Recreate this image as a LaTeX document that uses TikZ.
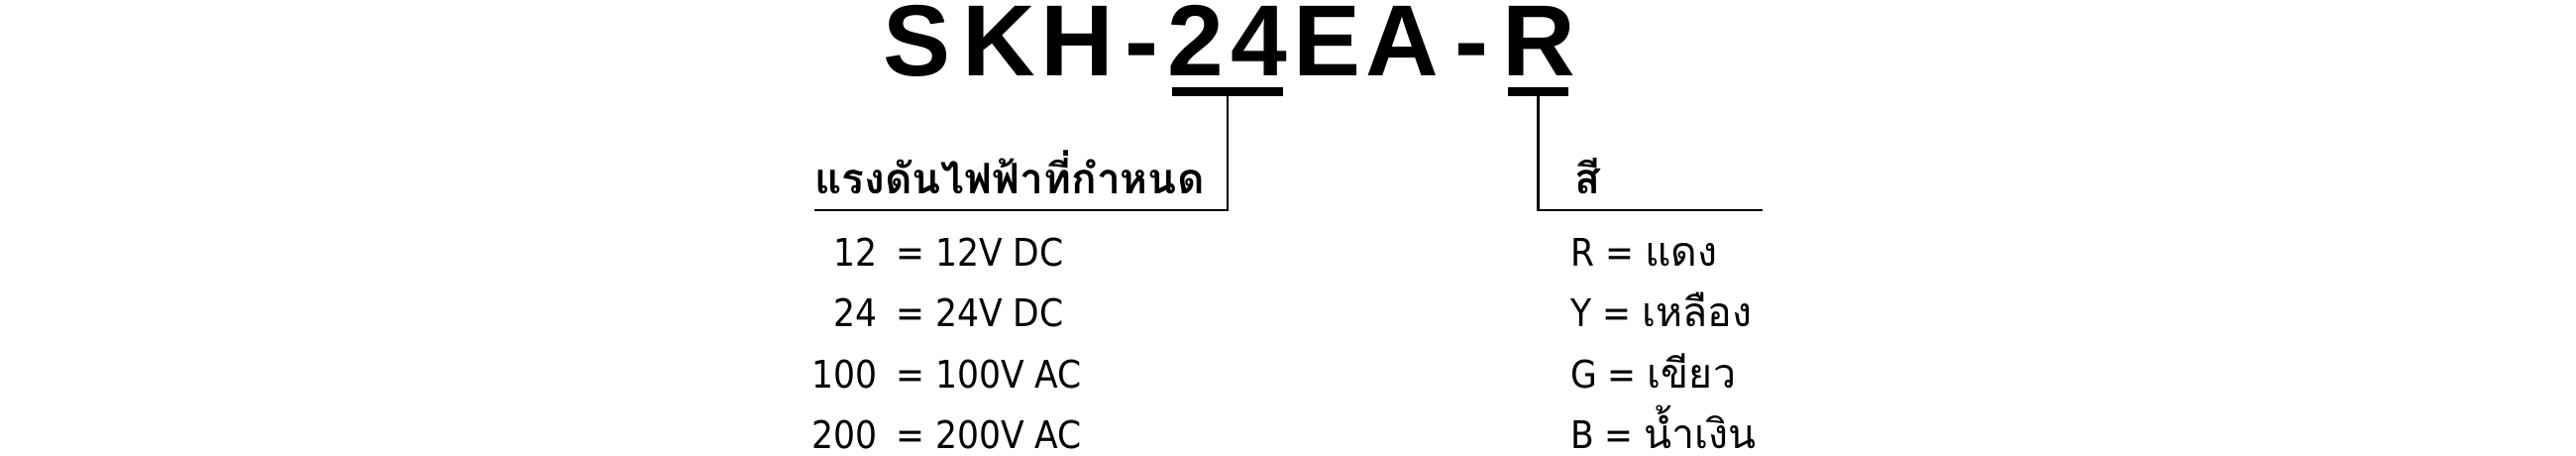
\documentclass[tikz,border=0pt]{standalone}
\usepackage{fontspec}
\newfontfamily\ttlfont{Liberation Sans}
\newfontfamily\latfont[FakeStretch=0.9]{DejaVu Sans}
\newfontfamily\thaifont[Script=Thai]{Loma}
\newcommand\thr[1]{{\thaifont\fontsize{41}{41}\selectfont #1}}
\begin{document}
\begin{tikzpicture}[x=1pt,y=-1pt,
  ttl/.style={anchor=base, inner sep=0pt, font=\ttlfont\bfseries\fontsize{102}{102}\selectfont},
  bar/.style={fill=black, draw=none, inner sep=0pt, minimum height=9pt},
  conn/.style={line width=2.4pt},
  hdr/.style={anchor=base west, inner sep=0pt, font=\thaifont\bfseries\fontsize{42.5}{44}\selectfont},
  key/.style={anchor=base east, inner sep=0pt, text depth=0pt, font=\latfont\fontsize{38.4}{40}\selectfont},
  val/.style={anchor=base west, inner sep=0pt, text depth=0pt, font=\latfont\fontsize{38.4}{40}\selectfont}]
\useasboundingbox (0,0) rectangle (2600,460);
% title
\node[ttl] (t1) at (925.5,77) {S};
\node[ttl] (t2) at (1008,77) {K};
\node[ttl] (t3) at (1087.5,77) {H};
\node[ttl] (t4) at (1152.5,77) {-};
\node[ttl] (t5) at (1207,77) {2};
\node[ttl] (t6) at (1271,77) {4};
\node[ttl] (t7) at (1340,77) {E};
\node[ttl] (t8) at (1415.5,77) {A};
\node[ttl] (t9) at (1485,77) {-};
\node[ttl] (t10) at (1553.5,77) {R};
% underline bars
\node[bar, minimum width=112pt] (u24) at (1239,92.5) {};
\node[bar, minimum width=61pt] (uR) at (1552.5,92.5) {};
% connectors
\coordinate (e24) at (822,212);
\coordinate (eR) at (1779,212);
\draw[conn] (u24.south) |- (e24);
\draw[conn] (uR.south) |- (eR);
% headers
\node[hdr] (h24) at (822,195) {แรงดันไฟฟ้าที่กำหนด};
\node[hdr] (hR) at (1589,195) {สี};
% left rows
\node[key] (k1) at (886,268) {12};
\node[val] (v1) at (904,268) {= 12V DC};
\node[key] (k2) at (886,329.5) {24};
\node[val] (v2) at (904,329.5) {= 24V DC};
\node[key] (k3) at (886,391) {100};
\node[val] (v3) at (904,391) {= 100V AC};
\node[key] (k4) at (886,452.5) {200};
\node[val] (v4) at (904,452.5) {= 200V AC};
% right rows
\node[val] (r1) at (1585,268) {R = \thr{แดง}};
\node[val] (r2) at (1585,329.5) {Y = \thr{เหลือง}};
\node[val] (r3) at (1585,391) {G = \thr{เขียว}};
\node[val] (r4) at (1585,452.5) {B = \thr{น้ำเงิน}};
\end{tikzpicture}
\end{document}
